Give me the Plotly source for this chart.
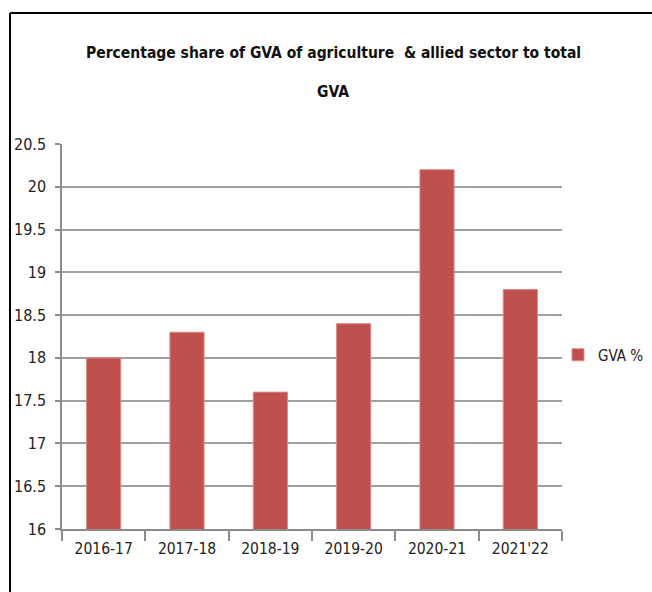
import plotly.graph_objects as go

categories = ["2016-17", "2017-18", "2018-19", "2019-20", "2020-21", "2021'22"]
gva_share = [18.0, 18.3, 17.6, 18.4, 20.2, 18.8]
y_ticks = [16, 16.5, 17, 17.5, 18, 18.5, 19, 19.5, 20, 20.5]
y_tick_text = ["16", "16.5", "17", "17.5", "18", "18.5", "19", "19.5", "20", "20.5"]
series_name = "GVA %"
title_line1 = "Percentage share of GVA of agriculture  &amp; allied sector to total"
title_line2 = "GVA"

FONT = "DejaVu Sans Condensed, Liberation Sans Narrow, sans-serif"

fig = go.Figure()
fig.add_trace(go.Bar(
    x=categories, y=gva_share, name=series_name,
    marker=dict(color="#c0504d", line=dict(color="#d98a88", width=1)),
    showlegend=True,
))

W, H = 652, 592
L, R, T, B = 62, 90, 144, 63
pw, ph = W - L - R, H - T - B

def px_x(px):
    return (px - L) / pw

def px_y(py):
    return (H - B - py) / ph

fig.update_layout(
    width=W, height=H,
    margin=dict(l=L, r=R, t=T, b=B, autoexpand=False),
    paper_bgcolor="white", plot_bgcolor="white",
    font=dict(family=FONT, size=16, color="#222222"),
    bargap=0.59,
    showlegend=True,
    legend=dict(x=px_x(558), y=px_y(355), xanchor="left", yanchor="middle",
                font=dict(size=15, color="#222222"), itemwidth=30,
                bgcolor="rgba(0,0,0,0)"),
    xaxis=dict(
        type="category", showline=True, linecolor="#8c8c8c", linewidth=1.5,
        ticks="outside", ticklen=10, tickcolor="#8c8c8c", tickwidth=1.5,
        tickson="boundaries", showgrid=False, tickfont=dict(size=15.5),
        ticklabelstandoff=5,
    ),
    yaxis=dict(
        range=[16, 20.5], tickvals=y_ticks, ticktext=y_tick_text,
        showline=True, linecolor="#8c8c8c", linewidth=1.5,
        ticks="outside", ticklen=5, tickcolor="#8c8c8c", tickwidth=1.5,
        showgrid=True, gridcolor="#a0a0a0", gridwidth=1.5,
        zeroline=False, tickfont=dict(size=16), ticklabelstandoff=6,
    ),
)

fig.add_annotation(text="<b>" + title_line1 + "</b>", xref="paper", yref="paper",
                   x=px_x(333), y=px_y(53), showarrow=False, xanchor="center", yanchor="middle",
                   font=dict(size=15.5, family=FONT, color="#111111"))
fig.add_annotation(text="<b>" + title_line2 + "</b>", xref="paper", yref="paper",
                   x=px_x(333), y=px_y(92), showarrow=False, xanchor="center", yanchor="middle",
                   font=dict(size=15.5, family=FONT, color="#111111"))

# outer chart border (top and left)
fig.add_shape(type="line", xref="paper", yref="paper", x0=px_x(10), x1=px_x(652),
              y0=px_y(13), y1=px_y(13), line=dict(color="black", width=2))
fig.add_shape(type="line", xref="paper", yref="paper", x0=px_x(10), x1=px_x(10),
              y0=px_y(13), y1=px_y(592), line=dict(color="black", width=2))

fig.write_html("out.html")
